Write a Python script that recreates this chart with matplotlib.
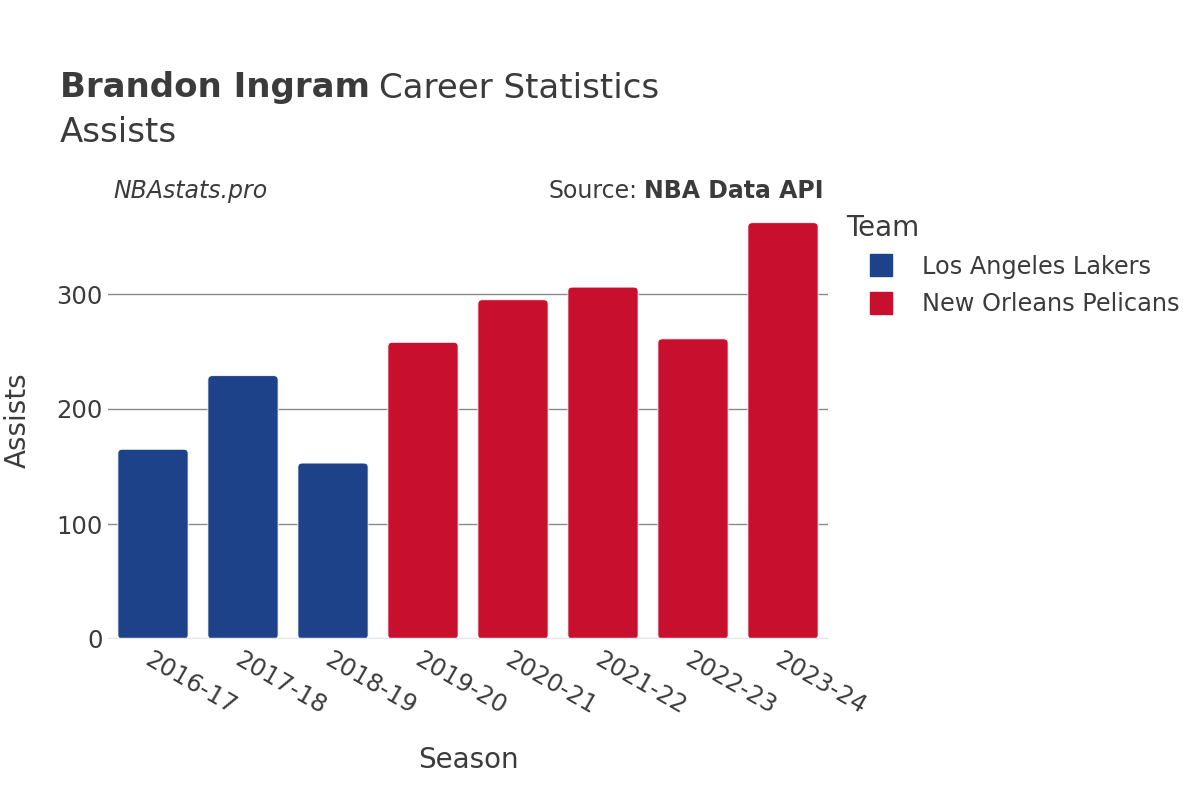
import matplotlib
matplotlib.use('Agg')
import numpy as np
from matplotlib import pyplot as plt
from matplotlib.patches import FancyBboxPatch
from matplotlib.lines import Line2D

seasons = ['2016-17', '2017-18', '2018-19', '2019-20', '2020-21', '2021-22', '2022-23', '2023-24']
assists = [165, 229, 153, 258, 295, 306, 261, 362]
teams = ['Los Angeles Lakers', 'Los Angeles Lakers', 'Los Angeles Lakers',
         'New Orleans Pelicans', 'New Orleans Pelicans', 'New Orleans Pelicans',
         'New Orleans Pelicans', 'New Orleans Pelicans']
team_names = ['Los Angeles Lakers', 'New Orleans Pelicans']
team_colors = {'Los Angeles Lakers': '#1D428A', 'New Orleans Pelicans': '#C8102E'}
y_ticks = [0, 100, 200, 300]

TEXT = '#3b3b3b'
plt.rcParams['font.family'] = ['DejaVu Sans']


def main():
    fig = plt.figure(figsize=(12, 8), dpi=100)
    ax = fig.add_axes([0.09, 0.20125, 0.60, 0.54625])

    x = np.arange(len(seasons))
    bars = ax.bar(x, assists, width=0.78, color=[team_colors[t] for t in teams], zorder=3)
    ax.set_xlim(-0.5, len(seasons) - 0.5)
    ax.set_ylim(0, 380)

    # swap plain rectangles for rounded ones
    for b in bars:
        b.set_visible(False)
        rb = FancyBboxPatch((b.get_x(), b.get_y()), b.get_width(), b.get_height(),
                            boxstyle='round,pad=0,rounding_size=0.05',
                            mutation_aspect=70, facecolor=b.get_facecolor(),
                            edgecolor='white', linewidth=0.6, zorder=3)
        ax.add_patch(rb)

    ax.set_yticks(y_ticks)
    ax.set_yticklabels([str(v) for v in y_ticks], fontsize=17.5, color=TEXT)
    ax.set_xticks(x)
    ax.set_xticklabels(seasons, rotation=-30, ha='left', rotation_mode='anchor',
                       fontsize=17.5, color=TEXT)
    ax.tick_params(axis='y', length=0, pad=4)
    ax.tick_params(axis='x', length=0, pad=6)
    for s in ax.spines.values():
        s.set_visible(False)
    ax.grid(axis='y', color='#8a8a8a', linewidth=1, zorder=0)
    ax.axhline(0, color='#e6e6e6', linewidth=2.5, zorder=4)

    ax.set_xlabel('Season', fontsize=20, color=TEXT)
    ax.set_ylabel('Assists', fontsize=20, color=TEXT)
    ax.xaxis.set_label_coords(0.5, -0.277)
    ax.yaxis.set_label_coords(-0.125, 0.5)
    ax.xaxis.label.set_va('center')
    ax.yaxis.label.set_va('center')

    # title, bold name followed by regular text
    t1 = fig.text(60 / 1200, 1 - 88 / 800, 'Brandon Ingram', fontsize=24.5, fontweight='bold',
                  color=TEXT, va='center')
    fig.canvas.draw()
    bb = t1.get_window_extent()
    fig.text((bb.x1 + 9) / 1200, 1 - 88 / 800, 'Career Statistics', fontsize=24.5,
             color=TEXT, va='center')
    fig.text(60 / 1200, 1 - 132 / 800, 'Assists', fontsize=24.5, color=TEXT, va='center')

    fig.text(113 / 1200, 1 - 191 / 800, 'NBAstats.pro', fontsize=17, style='italic',
             color=TEXT, va='center')
    t2 = fig.text(824 / 1200, 1 - 191 / 800, 'NBA Data API', fontsize=17, fontweight='bold',
                  color=TEXT, va='center', ha='right')
    fig.canvas.draw()
    bb = t2.get_window_extent()
    fig.text((bb.x0 - 7) / 1200, 1 - 191 / 800, 'Source:', fontsize=17,
             color=TEXT, va='center', ha='right')

    handles = [Line2D([], [], marker='s', linestyle='none', markersize=15.5,
                      markerfacecolor=team_colors[t], markeredgecolor=team_colors[t])
               for t in team_names]
    leg = fig.legend(handles, team_names, loc='upper left',
                     bbox_to_anchor=(837 / 1200, 1 - 204 / 800),
                     frameon=False, fontsize=17.3, title='Team', title_fontsize=20,
                     labelcolor=TEXT, handlelength=2.9, handletextpad=0.25,
                     labelspacing=0.55, alignment='left', borderaxespad=0)
    leg.get_title().set_color(TEXT)

    fig.savefig('out.png', dpi=100, facecolor='white')


if __name__ == '__main__':
    main()
